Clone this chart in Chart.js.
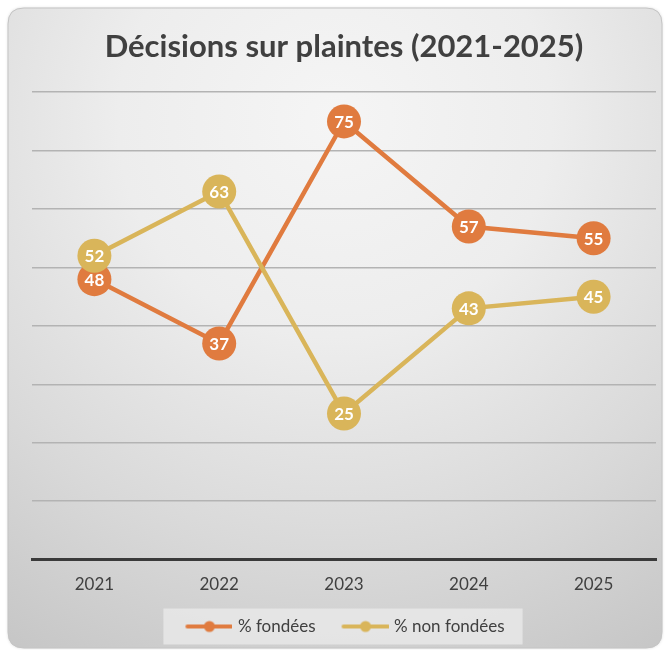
<!DOCTYPE html>
<html>
<head>
<meta charset="utf-8">
<script src="https://cdn.jsdelivr.net/npm/chart.js@4.4.0/dist/chart.umd.min.js"></script>
<style>
html,body{margin:0;padding:0;background:#ffffff;}
#wrap{width:667px;height:650px;position:relative;}
</style>
</head>
<body>
<div id="wrap"><canvas id="c" width="667" height="650"></canvas></div>
<script>
const titleText = 'Décisions sur plaintes (2021-2025)';
const years = ['2021', '2022', '2023', '2024', '2025'];
const seriesNames = ['% fondées', '% non fondées'];
const fondees = [48, 37, 75, 57, 55];
const nonFondees = [52, 63, 25, 43, 45];
const yMin = 0, yMax = 80, yStep = 10;

const ORANGE = '#E07B3F';
const YELLOW = '#D9B55A';
const FONT = 'Lato, "Open Sans", sans-serif';

function legendIcon(color) {
  const c = document.createElement('canvas');
  c.width = 52; c.height = 14;
  const x = c.getContext('2d');
  x.strokeStyle = color; x.lineWidth = 4; x.lineCap = 'round';
  x.beginPath(); x.moveTo(7, 7); x.lineTo(51, 7); x.stroke();
  x.fillStyle = color; x.beginPath(); x.arc(29, 7, 5.5, 0, Math.PI * 2); x.fill();
  return c;
}

const cardPlugin = {
  id: 'card',
  beforeDraw(chart) {
    const ctx = chart.ctx;
    const x0 = 8, y0 = 8, x1 = 662, y1 = 648, r = 16;
    ctx.save();
    ctx.beginPath();
    ctx.moveTo(x0 + r, y0);
    ctx.lineTo(x1 - r, y0); ctx.quadraticCurveTo(x1, y0, x1, y0 + r);
    ctx.lineTo(x1, y1 - r); ctx.quadraticCurveTo(x1, y1, x1 - r, y1);
    ctx.lineTo(x0 + r, y1); ctx.quadraticCurveTo(x0, y1, x0, y1 - r);
    ctx.lineTo(x0, y0 + r); ctx.quadraticCurveTo(x0, y0, x0 + r, y0);
    ctx.closePath();
    const g = ctx.createRadialGradient(335, 120, 0, 335, 120, 620);
    g.addColorStop(0, '#f5f5f5');
    g.addColorStop(0.35, '#ededed');
    g.addColorStop(0.7, '#d9d9d9');
    g.addColorStop(1, '#c6c6c6');
    ctx.fillStyle = g;
    ctx.shadowColor = 'rgba(0,0,0,0.18)';
    ctx.shadowBlur = 3;
    ctx.fill();
    ctx.shadowBlur = 0;
    ctx.strokeStyle = '#c4c4c4';
    ctx.lineWidth = 1;
    ctx.stroke();
    // legend box
    const lg = chart.legend;
    if (lg && lg.legendHitBoxes && lg.legendHitBoxes.length) {
      let l = Infinity, rr = -Infinity, t = Infinity, b = -Infinity;
      lg.legendHitBoxes.forEach(h => {
        l = Math.min(l, h.left); rr = Math.max(rr, h.left + h.width);
        t = Math.min(t, h.top); b = Math.max(b, h.top + h.height);
      });
      const cy = (t + b) / 2;
      ctx.fillStyle = 'rgba(235,235,235,0.75)';
      ctx.fillRect(l - 20, cy - 18, (rr - l) + 38, 36);
    }
    ctx.restore();
  }
};

const labelPlugin = {
  id: 'valueLabels',
  afterDatasetsDraw(chart) {
    const ctx = chart.ctx;
    ctx.save();
    ctx.font = 'bold 17px ' + FONT;
    ctx.fillStyle = '#ffffff';
    ctx.textAlign = 'center';
    ctx.textBaseline = 'middle';
    [0, 1].forEach(di => {
      const meta = chart.getDatasetMeta(di);
      const ds = chart.data.datasets[di];
      meta.data.forEach((pt, i) => {
        ctx.fillText(String(ds.data[i]), pt.x, pt.y + 1);
      });
    });
    ctx.restore();
  }
};

new Chart(document.getElementById('c'), {
  type: 'line',
  data: {
    labels: years,
    datasets: [
      {
        label: seriesNames[0], data: fondees,
        borderColor: ORANGE, backgroundColor: ORANGE,
        borderWidth: 4.5, pointRadius: 17, pointHoverRadius: 17,
        pointBorderWidth: 0, pointBackgroundColor: ORANGE,
        pointStyle: 'circle', order: 1
      },
      {
        label: seriesNames[1], data: nonFondees,
        borderColor: YELLOW, backgroundColor: YELLOW,
        borderWidth: 4.5, pointRadius: 17, pointHoverRadius: 17,
        pointBorderWidth: 0, pointBackgroundColor: YELLOW,
        pointStyle: 'circle', order: 0
      }
    ]
  },
  options: {
    responsive: false,
    animation: false,
    events: [],
    layout: { autoPadding: false, padding: { left: 32, right: 11, top: 0, bottom: 5 } },
    plugins: {
      title: {
        display: true, text: titleText, color: '#404040',
        font: { family: FONT, size: 31, weight: 'bold' },
        padding: { top: 28, bottom: 27 }
      },
      legend: {
        display: true, position: 'bottom',
        labels: {
          color: '#404040',
          font: { family: FONT, size: 17 },
          usePointStyle: true,
          pointStyleWidth: 46,
          padding: 24,
          sort: (a, b) => a.datasetIndex - b.datasetIndex,
          generateLabels: (chart) => chart.data.datasets.map((ds, i) => ({
            text: ds.label, datasetIndex: i,
            pointStyle: legendIcon(ds.borderColor),
            fillStyle: ds.borderColor, strokeStyle: ds.borderColor,
            lineWidth: 0, hidden: false, fontColor: '#404040'
          }))
        }
      },
      tooltip: { enabled: false }
    },
    scales: {
      x: {
        offset: true,
        grid: { display: false, drawTicks: false },
        border: { display: true, color: '#3a3a3a', width: 3 },
        ticks: { color: '#404040', font: { family: FONT, size: 17 }, padding: 15 },
        afterFit: (scale) => { scale.height -= 16; }
      },
      y: {
        min: yMin, max: yMax,
        ticks: { display: false, stepSize: yStep },
        grid: { color: '#b3b3b3', lineWidth: 1.5, drawTicks: false },
        border: { display: false }
      }
    }
  },
  plugins: [cardPlugin, labelPlugin]
});
</script>
</body>
</html>
